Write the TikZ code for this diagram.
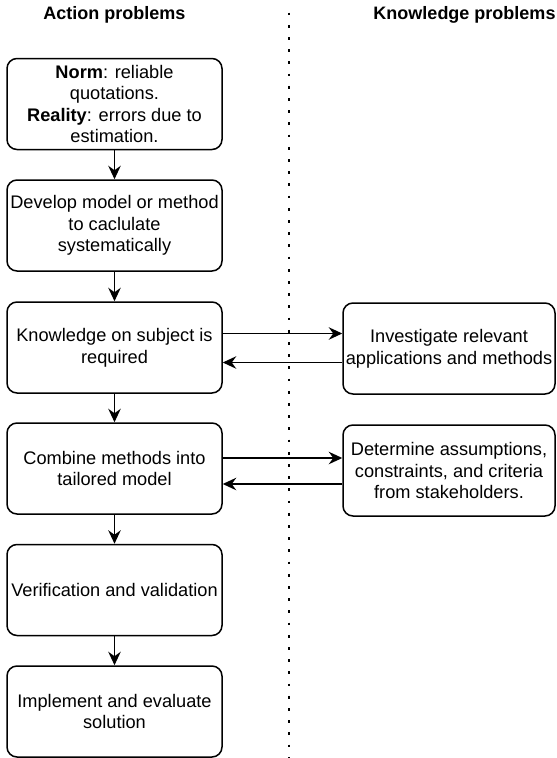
\documentclass[tikz,border=0pt]{standalone}
\usepackage{fontspec}
\setmainfont{Liberation Sans}
\usetikzlibrary{arrows.meta}
\begin{document}
\begin{tikzpicture}[x=1pt,y=-1pt,
  box/.style={draw=black, line width=1.5pt, rounded corners=10pt, align=center,
    minimum width=215pt, minimum height=91pt, inner sep=0pt,
    font=\fontsize{18.2}{21.6}\selectfont},
  rbox/.style={box, minimum width=212pt},
  head/.style={font=\fontsize{18}{21.6}\selectfont\bfseries, inner sep=0pt},
  arr/.style={line width=1.5pt, -{Stealth[length=13.5pt,width=12.5pt,inset=4.5pt]}},
  sep/.style={line width=2.8pt, dash pattern=on 2.8pt off 9.4pt}]
\useasboundingbox (0,0) rectangle (557,758);

% column headings
\node[head] (hact) at (114.5,15) {Action problems};
\node[head] (hknow) at (464.5,15) {Knowledge problems};

% divider between the two columns
\coordinate (dtop) at (289,12.6);
\coordinate (dbot) at (289,758);
\draw[sep] (dtop) -- (dbot);

% action problems column
\node[box] (n1) at (114.5,104) {\textbf{Norm}: reliable\\quotations.\\\textbf{Reality}: errors due to\\estimation.};
\node[box] (n2) at (114.5,225.5) {Develop model or method\\to caclulate\\systematically};
\node[box] (n3) at (114.5,347.5) {Knowledge on subject is\\required};
\node[box] (n4) at (114.5,468.5) {Combine methods into\\tailored model};
\node[box] (n5) at (114.5,590) {Verification and validation};
\node[box] (n6) at (114.5,711.5) {Implement and evaluate\\solution};

% knowledge problems column
\node[rbox] (k1) at (449,348.5) {Investigate relevant\\applications and methods};
\node[rbox] (k2) at (449,470.5) {Determine assumptions,\\constraints, and criteria\\from stakeholders.};

% main flow
\draw[arr] (n1) -- (n2);
\draw[arr] (n2) -- (n3);
\draw[arr] (n3) -- (n4);
\draw[arr] (n4) -- (n5);
\draw[arr] (n5) -- (n6);

% exchanges with the knowledge column
\draw[arr] ([yshift=15pt]k1.west -| n3.east) -- ([yshift=15pt]k1.west);
\draw[arr] ([yshift=-14pt]k1.west) -- ([yshift=-14pt]k1.west -| n3.east);
\draw[arr] ([yshift=12.5pt]k2.west -| n4.east) -- ([yshift=12.5pt]k2.west);
\draw[arr] ([yshift=-13.5pt]k2.west) -- ([yshift=-13.5pt]k2.west -| n4.east);
\end{tikzpicture}
\end{document}
